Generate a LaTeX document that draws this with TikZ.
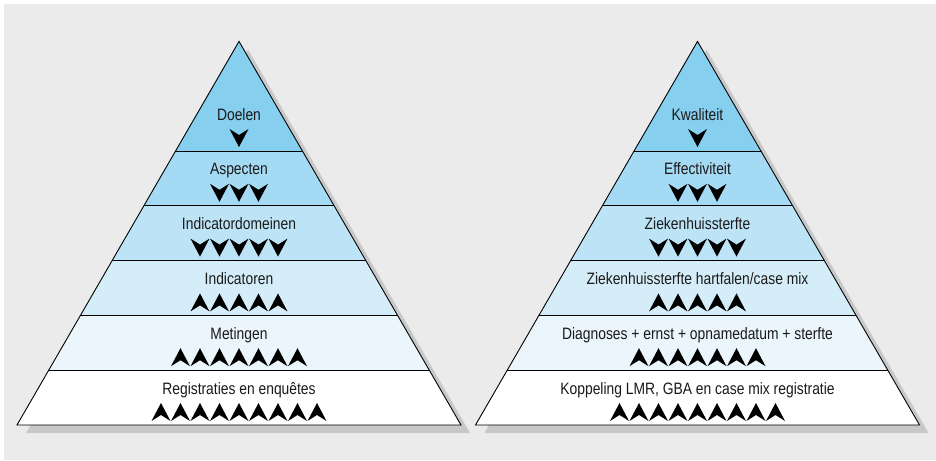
\documentclass[tikz,border=0pt]{standalone}
\usepackage{fontspec}
\setmainfont{Liberation Sans}[FakeStretch=0.84]
\usepackage{tikz}
\definecolor{bggrey}{HTML}{EBEBEB}
\definecolor{shadowgrey}{HTML}{C8C8C8}
\definecolor{txtgrey}{HTML}{1A1A1A}
\definecolor{levela}{HTML}{86CFEE}
\definecolor{levelb}{HTML}{A4DAF3}
\definecolor{levelc}{HTML}{BDE4F6}
\definecolor{leveld}{HTML}{D5EDF9}
\definecolor{levele}{HTML}{EAF5FC}

\begin{document}
\begin{tikzpicture}[
  x=1pt, y=-1pt,
  level/.style={draw=black, line width=0.9pt, line join=miter},
  lbl/.style={font=\fontsize{16.5}{19}\selectfont, text=txtgrey, anchor=base, inner sep=0pt},
  chevron/.pic={\fill[black] (-9.5,9) -- (0,-9) -- (9.5,9) -- (0,3) -- cycle;}
]
  \useasboundingbox (0,0) rectangle (936,460);
  \fill[bggrey] (4,4) rectangle (936,460);

  \foreach \cx in {239,697.5} {
    \fill[shadowgrey] (\cx+9,49.4) -- (\cx+231,433) -- (\cx-213,433) -- cycle;
    \begin{scope}
      \clip (\cx,41.4) -- (\cx+222,425) -- (\cx-222,425) -- cycle;
      \foreach \col [count=\k from 0] in {white,levele,leveld,levelc,levelb,levela}
        \fill[\col] (\cx-230,425-54.8*\k) rectangle (\cx+230,30);
      \foreach \k in {1,...,5}
        \draw[level] (\cx-230,425-54.8*\k) -- (\cx+230,425-54.8*\k);
    \end{scope}
    \draw[level] (\cx,41.4) -- (\cx+222,425) -- (\cx-222,425) -- cycle;
  }

  % links: doelen naar registraties
  \foreach \txt/\n/\s [count=\i] in {Doelen/1/-1, Aspecten/3/-1,
      Indicatordomeinen/5/-1, Indicatoren/5/1, Metingen/7/1,
      Registraties en enquêtes/9/1} {
    \pgfmathsetmacro\bot{425-54.8*(6-\i)}
    \node[lbl] (L\i) at (239,\bot-31) {\txt};
    \foreach \j in {1,...,\n}
      \pic[yscale=\s] at (239+19.5*\j-9.75*\n-9.75,\bot-13) {chevron};
  }

  % rechts: kwaliteit naar koppeling
  \foreach \txt/\n/\s [count=\i] in {Kwaliteit/1/-1, Effectiviteit/3/-1,
      Ziekenhuissterfte/5/-1, {Ziekenhuissterfte hartfalen/case mix}/5/1,
      Diagnoses + ernst + opnamedatum + sterfte/7/1,
      {Koppeling LMR, GBA en case mix registratie}/9/1} {
    \pgfmathsetmacro\bot{425-54.8*(6-\i)}
    \node[lbl] (R\i) at (697.5,\bot-31) {\txt};
    \foreach \j in {1,...,\n}
      \pic[yscale=\s] at (697.5+19.5*\j-9.75*\n-9.75,\bot-13) {chevron};
  }
\end{tikzpicture}
\end{document}
